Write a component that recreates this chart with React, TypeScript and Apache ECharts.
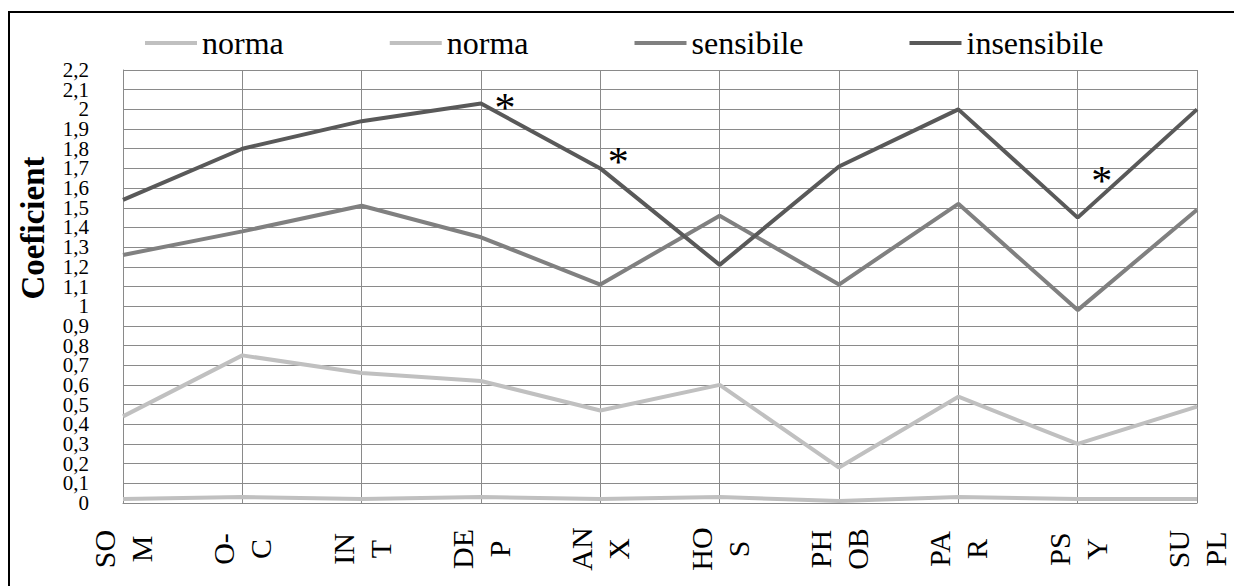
import React, { useEffect, useRef } from "react";
import * as echarts from "echarts";

const categories = ["SOM", "O-C", "INT", "DEP", "ANX", "HOS", "PHOB", "PAR", "PSY", "SUPL"];
const normaLow = [0.02, 0.03, 0.02, 0.03, 0.02, 0.03, 0.01, 0.03, 0.02, 0.02];
const normaHigh = [0.44, 0.75, 0.66, 0.62, 0.47, 0.6, 0.18, 0.54, 0.3, 0.49];
const sensibile = [1.26, 1.38, 1.51, 1.35, 1.11, 1.46, 1.11, 1.52, 0.98, 1.49];
const insensibile = [1.54, 1.8, 1.94, 2.03, 1.7, 1.21, 1.71, 2.0, 1.45, 2.0];
const significant = [3, 4, 8];
const asteriskOffsets = [[24, 5], [18, -6], [24, -37]];
const legendNames: Record<string, string> = {
  norma1: "norma",
  norma2: "norma",
  sensibile: "sensibile",
  insensibile: "insensibile",
};

const FONT = "Liberation Serif";
const Y_MIN = 0;
const Y_MAX = 2.2;
const Y_STEP = 0.1;

const fmt = (v: number) => String(Math.round(v * 10) / 10).replace(".", ",");
const isEvenStep = (v: number) => Math.round(v * 10) % 2 === 0;

export default function App() {
  const ref = useRef<HTMLDivElement>(null);
  useEffect(() => {
    if (!ref.current) return;
    const chart = echarts.init(ref.current, undefined, { renderer: "svg" });
    const gridColor = "#8a8a8a";
    const yLabelBase = {
      margin: 34,
      fontFamily: FONT,
      fontSize: 21,
      color: "#000",
    };
    chart.setOption({
      animation: false,
      backgroundColor: "#ffffff",
      legend: {
        left: 140,
        top: 22,
        itemWidth: 52,
        itemHeight: 4,
        itemGap: 106,
        icon: "rect",
        data: ["norma1", "norma2", "sensibile", "insensibile"],
        formatter: (n: string) => legendNames[n],
        textStyle: { fontFamily: FONT, fontSize: 32, color: "#000" },
      },
      grid: { left: 123, right: 19, top: 70, bottom: 83 },
      xAxis: {
        type: "category",
        boundaryGap: false,
        data: categories,
        axisLine: { lineStyle: { color: gridColor, width: 1 } },
        axisTick: { show: false },
        splitLine: { show: true, lineStyle: { color: gridColor, width: 1 } },
        axisLabel: {
          interval: 0,
          rotate: 90,
          align: "center",
          verticalAlign: "middle",
          margin: 46,
          fontFamily: FONT,
          fontSize: 30,
          lineHeight: 37,
          color: "#000",
          formatter: (v: string) => v.slice(0, 2) + "\n" + v.slice(2),
        },
      },
      yAxis: [
        {
          type: "value",
          min: Y_MIN,
          max: Y_MAX,
          interval: Y_STEP,
          axisLine: { show: true, lineStyle: { color: gridColor, width: 1 } },
          axisTick: { show: false },
          splitLine: { show: true, lineStyle: { color: gridColor, width: 1 } },
          axisLabel: {
            ...yLabelBase,
            showMinLabel: true,
            showMaxLabel: true,
            formatter: (v: number) => (isEvenStep(v) ? fmt(v) : ""),
          },
        },
        {
          type: "value",
          position: "left",
          min: Y_MIN,
          max: Y_MAX,
          interval: Y_STEP,
          axisLine: { show: false },
          axisTick: { show: false },
          splitLine: { show: false },
          axisLabel: {
            ...yLabelBase,
            showMinLabel: false,
            showMaxLabel: false,
            formatter: (v: number) => (isEvenStep(v) ? "" : fmt(v)),
          },
        },
      ],
      graphic: [
        {
          type: "rect",
          shape: { x: 9, y: 12, width: 1400, height: 800 },
          style: { fill: "none", stroke: "#000", lineWidth: 2 },
          silent: true,
          z: 100,
        },
        {
          type: "text",
          x: 33,
          y: 228,
          rotation: Math.PI / 2,
          style: {
            text: "Coeficient",
            fontFamily: FONT,
            fontWeight: "bold",
            fontSize: 33,
            fill: "#000",
            textAlign: "center",
            textVerticalAlign: "middle",
          },
        },
      ],
      series: [
        {
          name: "norma1",
          type: "line",
          data: normaLow,
          symbol: "none",
          lineStyle: { color: "#c0c0c0", width: 4 },
          itemStyle: { color: "#c0c0c0" },
        },
        {
          name: "norma2",
          type: "line",
          data: normaHigh,
          symbol: "none",
          lineStyle: { color: "#c0c0c0", width: 4 },
          itemStyle: { color: "#c0c0c0" },
        },
        {
          name: "sensibile",
          type: "line",
          data: sensibile,
          symbol: "none",
          lineStyle: { color: "#808080", width: 4 },
          itemStyle: { color: "#808080" },
        },
        {
          name: "insensibile",
          type: "line",
          data: insensibile,
          symbol: "none",
          lineStyle: { color: "#595959", width: 4 },
          itemStyle: { color: "#595959" },
          markPoint: {
            symbol: "circle",
            symbolSize: 0,
            label: {
              show: true,
              formatter: "*",
              position: "inside",
              fontFamily: FONT,
              fontSize: 42,
              color: "#000",
            },
            data: significant.map((i, k) => ({
              coord: [i, insensibile[i]],
              label: { offset: asteriskOffsets[k] },
            })),
          },
        },
      ],
    });
    return () => chart.dispose();
  }, []);
  return <div ref={ref} style={{ width: 1234, height: 586, position: "absolute", left: 0, top: 0 }} />;
}
